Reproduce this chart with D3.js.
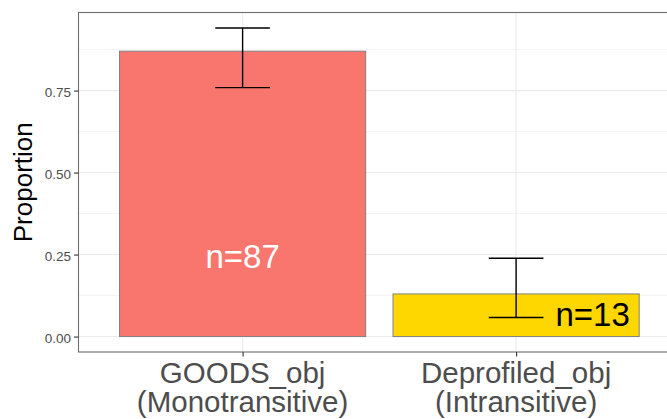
<!DOCTYPE html>
<html><head><meta charset="utf-8">
<script src="https://cdn.jsdelivr.net/npm/d3@7"></script>
<style>body{margin:0;background:#fff}svg{display:block;font-family:"Liberation Sans",Arial,sans-serif}</style>
</head><body><svg id="c" width="667" height="419"></svg>
<script>
const categories = ["GOODS_obj\n(Monotransitive)", "Deprofiled_obj\n(Intransitive)"];
const proportions = [0.87, 0.13];
const lowerCI = [0.759, 0.058];
const upperCI = [0.941, 0.239];
const countLabels = ["n=87", "n=13"];
const labelX = [1, 2.28];
const labelY = [0.245, 0.07];
const labelColors = ["#FFFFFF", "#000000"];
const fills = ["#F8766D", "#FFD700"];
const yTicks = [0, 0.25, 0.5, 0.75];
const yMinor = [0.125, 0.375, 0.625, 0.875];

const svg = d3.select("#c");
const P = {left: 78.5, top: 12.5, bottom: 352};
const ymax = d3.max(upperCI), ymin = 0;
const pad = (ymax - ymin) * 0.05;
const y = d3.scaleLinear().domain([ymin - pad, ymax + pad]).range([P.bottom, P.top]);
const unit = 273.5;
const x = d3.scaleLinear().domain([0.4, 2.6]).range([P.left, P.left + 2.2 * unit]);
const xr = x.range()[1];
const idx = categories.map((c, i) => i);

const g = svg.append("g");
g.append("rect").attr("x", P.left).attr("y", P.top).attr("width", xr - P.left).attr("height", P.bottom - P.top).attr("fill", "#fff");
g.selectAll(".ymin").data(yMinor).join("line")
  .attr("x1", P.left).attr("x2", xr).attr("y1", d => y(d)).attr("y2", d => y(d))
  .attr("stroke", "#EBEBEB").attr("stroke-width", 0.6);
g.selectAll(".ymaj").data(yTicks).join("line")
  .attr("x1", P.left).attr("x2", xr).attr("y1", d => y(d)).attr("y2", d => y(d))
  .attr("stroke", "#EBEBEB").attr("stroke-width", 1.1);
g.selectAll(".xmaj").data(idx).join("line")
  .attr("x1", i => x(i + 1)).attr("x2", i => x(i + 1)).attr("y1", P.top).attr("y2", P.bottom)
  .attr("stroke", "#EBEBEB").attr("stroke-width", 1.1);

g.selectAll(".bar").data(idx).join("rect")
  .attr("x", i => x(i + 1 - 0.45)).attr("width", i => x(i + 1 + 0.45) - x(i + 1 - 0.45))
  .attr("y", i => y(proportions[i])).attr("height", i => y(0) - y(proportions[i]))
  .attr("fill", i => fills[i]).attr("stroke", "#7F7F7F").attr("stroke-width", 1);

const eb = g.selectAll(".eb").data(idx).join("g").attr("stroke", "#000").attr("stroke-width", 1.4).attr("fill", "none");
eb.append("line").attr("x1", i => x(i + 1)).attr("x2", i => x(i + 1)).attr("y1", i => y(lowerCI[i])).attr("y2", i => y(upperCI[i]));
eb.append("line").attr("x1", i => x(i + 0.9)).attr("x2", i => x(i + 1.1)).attr("y1", i => y(lowerCI[i])).attr("y2", i => y(lowerCI[i]));
eb.append("line").attr("x1", i => x(i + 0.9)).attr("x2", i => x(i + 1.1)).attr("y1", i => y(upperCI[i])).attr("y2", i => y(upperCI[i]));

g.selectAll(".nlab").data(idx).join("text")
  .attr("x", i => x(labelX[i])).attr("y", i => y(labelY[i]) + 12)
  .attr("text-anchor", "middle").attr("font-size", 33).attr("fill", i => labelColors[i])
  .text(i => countLabels[i]);

g.append("rect").attr("x", P.left).attr("y", P.top).attr("width", xr - P.left).attr("height", P.bottom - P.top)
  .attr("fill", "none").attr("stroke", "#6E6E6E").attr("stroke-width", 1.1);

const yAxis = d3.axisLeft(y).tickValues(yTicks).tickFormat(d3.format(".2f")).tickSize(4.5).tickPadding(3);
const ya = svg.append("g").attr("transform", `translate(${P.left},0)`).call(yAxis);
ya.select(".domain").remove();
ya.selectAll(".tick line").attr("stroke", "#333").attr("stroke-width", 1.1);
ya.selectAll(".tick text").attr("fill", "#4D4D4D").attr("font-size", 13.5).attr("dy", "0.42em")
  .attr("font-family", '"Liberation Sans",Arial,sans-serif');

const xAxis = d3.axisBottom(x).tickValues([1, 2]).tickFormat(() => "").tickSize(4.5);
const xa = svg.append("g").attr("transform", `translate(0,${P.bottom})`).call(xAxis);
xa.select(".domain").remove();
xa.selectAll(".tick line").attr("stroke", "#333").attr("stroke-width", 1.1);
svg.selectAll(".xlab").data(idx).join("text")
  .attr("x", i => x(i + 1)).attr("y", 382.5)
  .attr("text-anchor", "middle").attr("font-size", 29.5).attr("fill", "#4D4D4D")
  .each(function(i) {
    const lines = categories[i].split("\n");
    d3.select(this).selectAll("tspan").data(lines).join("tspan")
      .attr("x", x(i + 1)).attr("dy", (d, k) => k === 0 ? 0 : 29.5).text(d => d);
  });

svg.append("text").attr("transform", `translate(31.5,${(P.top + P.bottom) / 2}) rotate(-90)`)
  .attr("text-anchor", "middle").attr("font-size", 26).attr("fill", "#000").text("Proportion");
</script></body></html>
